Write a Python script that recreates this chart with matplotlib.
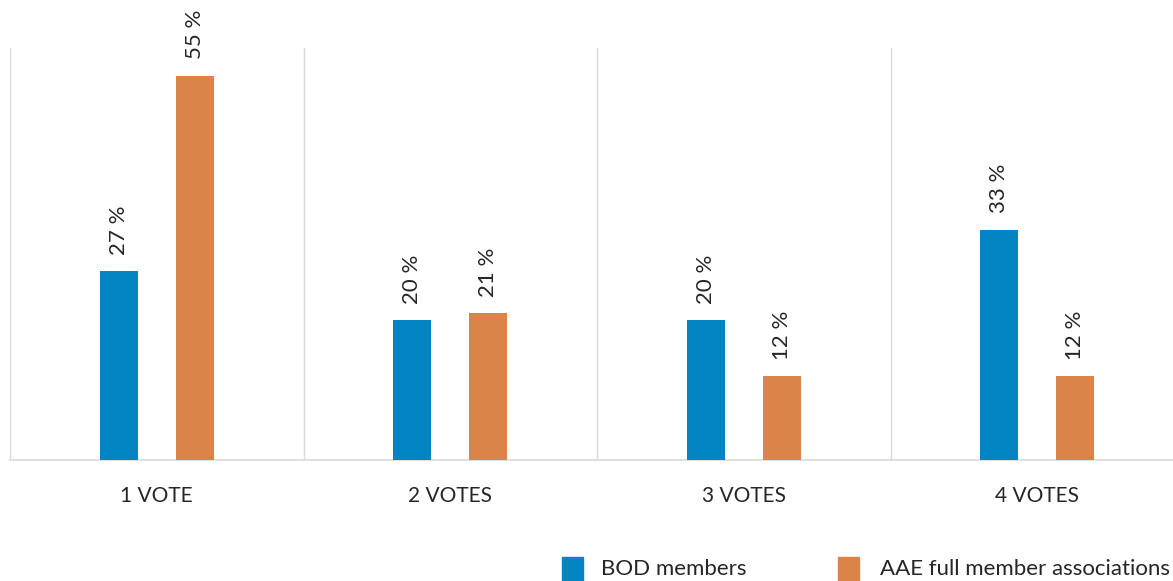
import matplotlib
matplotlib.use("Agg")
import matplotlib.pyplot as plt
from matplotlib.patches import Rectangle
import numpy as np

categories = ["1 VOTE", "2 VOTES", "3 VOTES", "4 VOTES"]
bod_members = [27, 20, 20, 33]
aae_members = [55, 21, 12, 12]
series_names = ["BOD members", "AAE full member associations"]

BLUE = "#0385C3"
ORANGE = "#DA8449"
TEXT = "#262626"
GRID = "#D9D9D9"

plt.rcParams['font.family'] = ['Lato', 'DejaVu Sans']

W, H = 1173, 581
fig = plt.figure(figsize=(W / 100, H / 100), dpi=100)
ax = fig.add_axes([10 / W, (H - 460) / H, 1174 / W, 412 / H])

x = np.arange(len(categories))
bw = 0.13
off = 0.13
b1 = ax.bar(x - off, bod_members, bw, color=BLUE, zorder=3)
b2 = ax.bar(x + off, aae_members, bw, color=ORANGE, zorder=3)

for bars, vals in ((b1, bod_members), (b2, aae_members)):
    for rect, v in zip(bars, vals):
        ax.annotate(f"{v} %", (rect.get_x() + rect.get_width() / 2, v),
                    xytext=(0, 12), textcoords="offset points",
                    rotation=90, ha="center", va="bottom",
                    fontsize=16, color=TEXT)

ax.set_xlim(-0.5, len(categories) - 0.5)
ax.set_ylim(0, 59)
for s in np.arange(-0.5, len(categories), 1.0):
    ax.axvline(s, color=GRID, lw=1, zorder=1)
for sp in ["top", "right", "left"]:
    ax.spines[sp].set_visible(False)
ax.spines["bottom"].set_color(GRID)
ax.spines["bottom"].set_linewidth(1.2)
ax.set_yticks([])
ax.set_xticks(x)
ax.set_xticklabels(categories, fontsize=15, color=TEXT)
ax.tick_params(axis="x", length=0, pad=19)

# legend
fig.add_artist(Rectangle((562 / W, 0), 21 / W, 24 / H, transform=fig.transFigure,
                         color=BLUE, clip_on=False))
fig.text(601 / W, 2 / H, series_names[0], fontsize=16, color=TEXT, va="bottom", ha="left")
fig.add_artist(Rectangle((838 / W, 0), 21 / W, 24 / H, transform=fig.transFigure,
                         color=ORANGE, clip_on=False))
fig.text(880 / W, 2 / H, series_names[1], fontsize=16, color=TEXT, va="bottom", ha="left")

fig.savefig("out.png", dpi=100)
